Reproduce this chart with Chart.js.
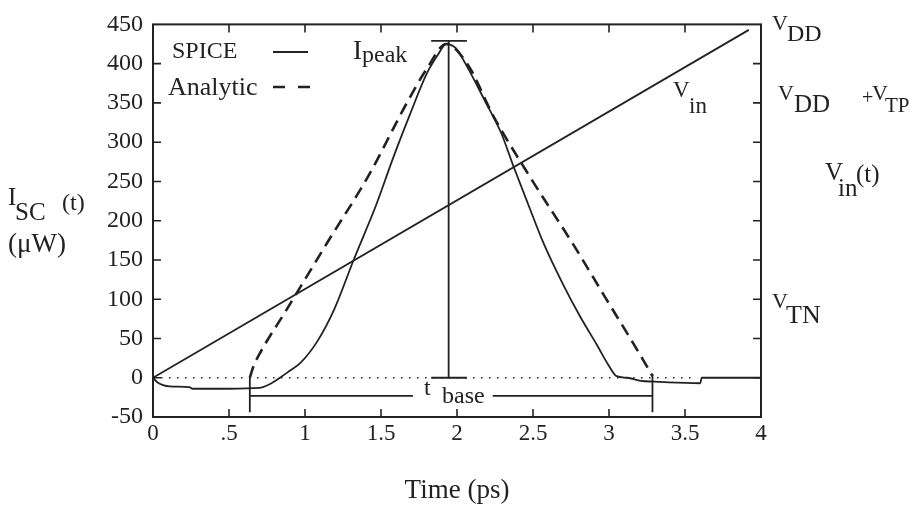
<!DOCTYPE html>
<html>
<head>
<meta charset="utf-8">
<script src="https://cdn.jsdelivr.net/npm/chart.js@4.4.0/dist/chart.umd.min.js"></script>
<style>
  html, body { margin: 0; padding: 0; background: #fff; }
  #wrap { width: 909px; height: 510px; position: relative; }
</style>
</head>
<body>
<div id="wrap"><canvas id="chart"></canvas></div>
<script>
const INK = "#222";
const SERIF = "'Liberation Serif', 'Times New Roman', serif";

// ---- axes ----
const timeTicks = [0, 0.5, 1, 1.5, 2, 2.5, 3, 3.5, 4];
const timeLabels = ["0", ".5", "1", "1.5", "2", "2.5", "3", "3.5", "4"];
const currentTicks = [-50, 0, 50, 100, 150, 200, 250, 300, 350, 400, 450];

// ---- SPICE short-circuit current (uW) ----
const spiceT = [0, 0.03, 0.11, 0.24, 0.26, 0.5, 0.70, 0.77, 0.835, 0.9, 0.97, 1.08, 1.19, 1.32, 1.47, 1.58, 1.69, 1.80, 1.87, 1.93,
  1.99, 2.07, 2.18, 2.29, 2.37, 2.47, 2.57, 2.70, 2.81, 2.92, 3.00, 3.05, 3.12, 3.21, 3.30, 3.39, 3.60, 3.61, 4];
const spiceI = [0, -6, -11, -12, -14, -14, -13, -8, 0, 9, 19, 46, 86, 150, 221, 280, 335, 387, 410, 425,
  420, 395, 354, 312, 270, 220, 171, 118, 78, 42, 15, 2, 0, -4, -5, -6, -7, 0, 0];

// ---- analytic model ----
const anaT = [0.637, 0.66, 0.70, 0.88, 1.14, 1.42, 1.67, 1.80, 1.93, 2.07, 2.24, 2.46, 2.78, 2.97, 3.14, 3.26, 3.286];
const anaI = [0, 14, 30, 87, 170, 258, 350, 393, 425, 399, 333, 262, 165, 104, 50, 11, 2];

// ---- input ramp (drawn on the current scale) ----
const vinT = [0, 3.92];
const vinV = [0, 443];

// ---- annotation marks ----
const zeroT = [0, 3.58];
const peakT = 1.945, peakI = 429;
const peakBarT = [1.83, 2.065];
const baseT = [0.637, 3.286];
const baseY = -23;
const baseGap = [1.71, 2.235];

const pts = (xs, ys) => xs.map((x, i) => ({ x: x, y: ys[i] }));

const line = (data, extra) => Object.assign({
  data: data, borderColor: INK, borderWidth: 1.8, pointRadius: 0, fill: false
}, extra || {});

const datasets = [
  line(pts(zeroT, [0, 0]), { borderWidth: 1.4, borderDash: [1.5, 6.5] }),
  line(pts(vinT, vinV)),
  line(pts(spiceT, spiceI), { cubicInterpolationMode: "monotone" }),
  line(pts(anaT, anaI), { borderWidth: 2.6, borderDash: [12, 7], cubicInterpolationMode: "monotone" }),
  // I_peak marker
  line(pts([peakT, peakT], [0, peakI])),
  line(pts(peakBarT, [peakI, peakI])),
  line(pts(peakBarT, [0, 0])),
  // t_base marker
  line(pts([baseT[0], baseGap[0]], [baseY, baseY])),
  line(pts([baseGap[1], baseT[1]], [baseY, baseY])),
  line(pts([baseT[0], baseT[0]], [0, -44])),
  line(pts([baseT[1], baseT[1]], [5, -44]))
];

function txt(ctx, s, x, y, size) {
  ctx.font = size + "px " + SERIF;
  ctx.fillText(s, x, y);
}

const framePlugin = {
  id: "frame",
  afterDraw(chart) {
    const ctx = chart.ctx;
    const a = chart.chartArea;
    const xs = chart.scales.x, ys = chart.scales.y;
    ctx.save();
    ctx.strokeStyle = INK;
    ctx.fillStyle = INK;
    ctx.lineWidth = 2;
    ctx.strokeRect(a.left, a.top, a.right - a.left, a.bottom - a.top);
    // inward ticks on all four sides
    ctx.lineWidth = 1.6;
    const tl = 8;
    ctx.beginPath();
    timeTicks.slice(1, -1).forEach(v => {
      const px = xs.getPixelForValue(v);
      ctx.moveTo(px, a.bottom); ctx.lineTo(px, a.bottom - tl);
      ctx.moveTo(px, a.top); ctx.lineTo(px, a.top + tl);
    });
    currentTicks.slice(1, -1).forEach(v => {
      const py = ys.getPixelForValue(v);
      ctx.moveTo(a.left, py); ctx.lineTo(a.left + tl, py);
      ctx.moveTo(a.right, py); ctx.lineTo(a.right - tl, py);
    });
    ctx.stroke();

    // legend
    txt(ctx, "SPICE", 172, 58, 24);
    txt(ctx, "Analytic", 168, 95, 26);
    ctx.lineWidth = 1.8;
    ctx.beginPath(); ctx.moveTo(273, 52); ctx.lineTo(308, 52); ctx.stroke();
    ctx.lineWidth = 2.6;
    ctx.beginPath();
    ctx.moveTo(273, 87); ctx.lineTo(285, 87);
    ctx.moveTo(298, 87); ctx.lineTo(310, 87);
    ctx.stroke();

    // labels inside the plot
    txt(ctx, "I", 353, 59, 27);
    txt(ctx, "peak", 362, 62, 24);
    txt(ctx, "V", 673, 97, 23);
    txt(ctx, "in", 689, 113, 23);
    txt(ctx, "t", 424, 395, 24);
    txt(ctx, "base", 442, 403, 24);

    // right side voltage labels
    txt(ctx, "V", 772, 30, 22);
    txt(ctx, "DD", 787, 41, 24);
    txt(ctx, "V", 778, 100, 22);
    txt(ctx, "DD", 794, 112, 25);
    txt(ctx, "+", 862, 104, 20);
    txt(ctx, "V", 872, 100, 22);
    txt(ctx, "TP", 885, 112, 21);
    txt(ctx, "V", 825, 180, 25);
    txt(ctx, "in", 838, 196, 25);
    txt(ctx, "(t)", 856, 182, 25);
    txt(ctx, "V", 772, 308, 22);
    txt(ctx, "TN", 786, 323, 26);

    // left axis title
    txt(ctx, "I", 8, 205, 25);
    txt(ctx, "SC", 15, 220, 25);
    txt(ctx, "(t)", 62, 210, 24);
    txt(ctx, "(\u03bcW)", 8, 252, 27);
    ctx.restore();
  }
};

new Chart(document.getElementById("chart"), {
  type: "line",
  data: { datasets: datasets },
  options: {
    responsive: true,
    maintainAspectRatio: false,
    animation: false,
    layout: { padding: { left: 0, top: 16, right: 148, bottom: 0 } },
    plugins: { legend: { display: false }, tooltip: { enabled: false } },
    scales: {
      x: {
        type: "linear", min: 0, max: 4,
        afterBuildTicks: s => { s.ticks = timeTicks.map(v => ({ value: v })); },
        afterFit: s => { s.height = 93; },
        grid: { display: true, drawOnChartArea: false, drawTicks: false },
        border: { display: false },
        ticks: {
          autoSkip: false, maxRotation: 0, padding: 3, color: INK,
          font: { family: SERIF, size: 23 },
          callback: v => timeLabels[timeTicks.indexOf(v)]
        },
        title: {
          display: true, text: "Time (ps)", color: INK,
          font: { family: SERIF, size: 27 }, padding: { top: 0, bottom: 3 }
        }
      },
      y: {
        type: "linear", min: -50, max: 450,
        afterBuildTicks: s => { s.ticks = currentTicks.map(v => ({ value: v })); },
        afterFit: s => { s.width = 153; },
        grid: { display: true, drawOnChartArea: false, drawTicks: false },
        border: { display: false },
        ticks: {
          autoSkip: false, padding: 10, color: INK,
          font: { family: SERIF, size: 24 }
        }
      }
    }
  },
  plugins: [framePlugin]
});
</script>
</body>
</html>
